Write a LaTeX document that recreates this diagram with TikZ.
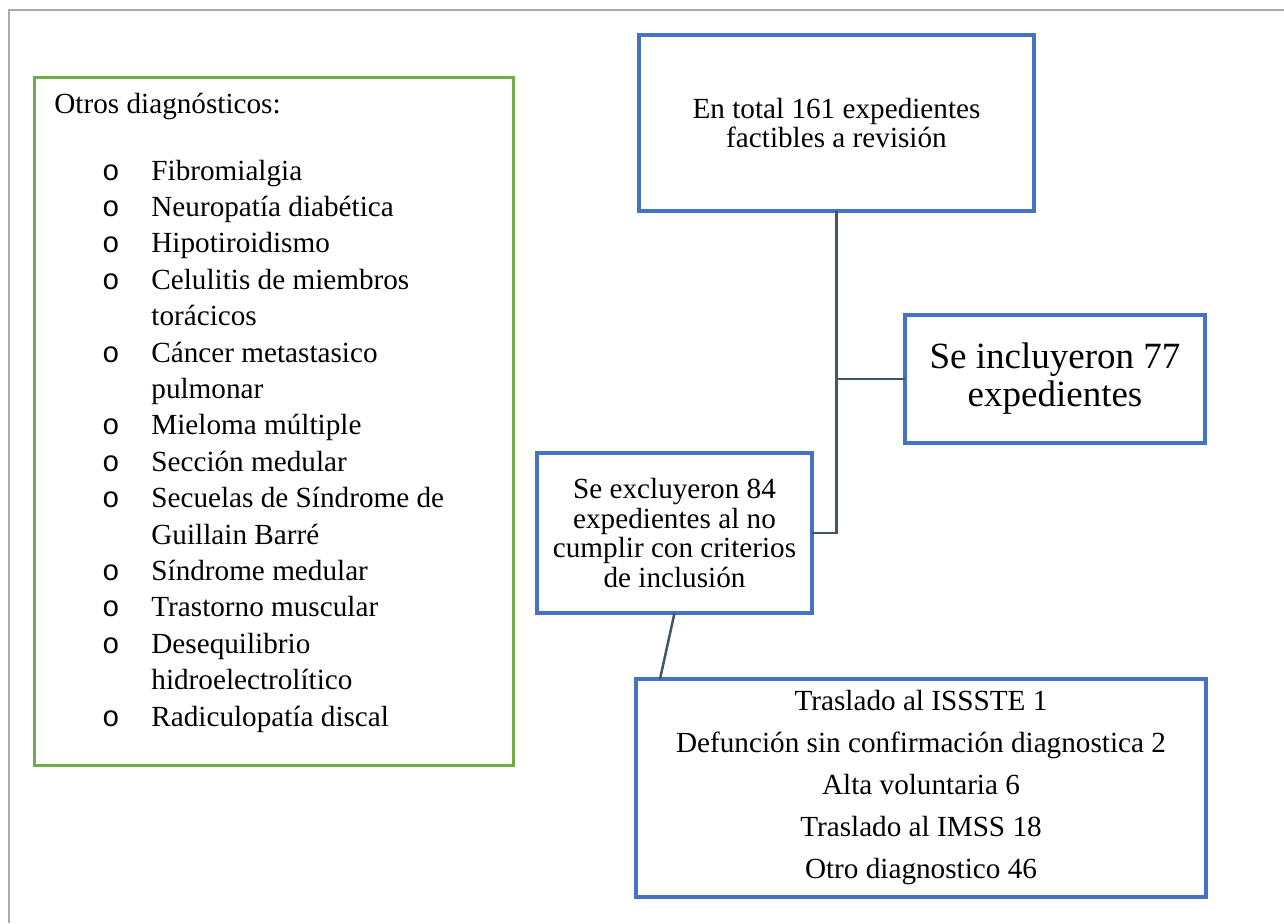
\documentclass[tikz,border=0pt]{standalone}
\usepackage{fontspec}
\setmainfont{Liberation Serif}
\newfontfamily\bulletfont{Liberation Mono}
\definecolor{boxblue}{HTML}{4472C4}
\definecolor{boxgreen}{HTML}{70AD47}
\definecolor{linkc}{HTML}{44546A}
\definecolor{framegray}{HTML}{ABABAB}
\begin{document}
\begin{tikzpicture}[x=0.5pt,y=-0.5pt,
  bluebox/.style={draw=boxblue,line width=2pt,outer sep=0pt,inner sep=0pt,align=center},
  greenbox/.style={draw=boxgreen,line width=1.5pt,outer sep=0pt,inner sep=0pt},
  link/.style={draw=linkc,line width=1.25pt},
  txt/.style={font=\fontsize{14.6}{14.7}\selectfont,inner sep=0pt,anchor=base west},
  bul/.style={font=\bulletfont\fontsize{14.6}{14.7}\selectfont,inner sep=0pt,anchor=base}]
\useasboundingbox (0,0) rectangle (1284,923);
\draw[framegray,line width=1pt] (9,923) -- (9,10) -- (1284,10);

% green box
\node[greenbox,minimum width=239.5pt,minimum height=344pt] (otros) at (274,421.5) {};
\node[txt] (titulo) at (54,113) {Otros diagnósticos:};
\foreach \k/\b/\t in {0/1/Fibromialgia,1/1/Neuropatía diabética,2/1/Hipotiroidismo,
  3/1/Celulitis de miembros,4/0/torácicos,5/1/Cáncer metastasico,6/0/pulmonar,
  7/1/Mieloma múltiple,8/1/Sección medular,9/1/Secuelas de Síndrome de,
  10/0/Guillain Barré,11/1/Síndrome medular,12/1/Trastorno muscular,
  13/1/Desequilibrio,14/0/hidroelectrolítico,15/1/Radiculopatía discal}{
  \node[txt] (item\k) at (151,180+36.4*\k) {\t};
  \ifnum\b=1 \node[bul] (bul\k) at (111,180+36.4*\k) {o};\fi
}

% blue boxes
\node[bluebox,minimum width=197.5pt,minimum height=88pt,font=\fontsize{14.6}{14.7}\selectfont]
  (top) at (836.5,123) {En total 161 expedientes\\factibles a revisión};
\node[bluebox,minimum width=150pt,minimum height=64pt,font=\fontsize{18.5}{19}\selectfont]
  (incl) at (1055,379) {Se incluyeron 77\\expedientes};
\node[bluebox,minimum width=137.5pt,minimum height=80pt,font=\fontsize{14.6}{14.75}\selectfont]
  (excl) at (674.5,533) {Se excluyeron 84\\expedientes al no\\cumplir con criterios\\de inclusión};
\node[bluebox,minimum width=285pt,minimum height=109pt,font=\fontsize{14.6}{21}\selectfont]
  (motivos) at (921,788) {Traslado al ISSSTE 1\\Defunción sin confirmación diagnostica 2\\Alta voluntaria 6\\Traslado al IMSS 18\\Otro diagnostico 46};

% connectors
\coordinate (motin) at ([xshift=12pt]motivos.north west);
\draw[link] (top.south) -- (top.south |- excl.east) -- (excl.east);
\draw[link] (top.south |- incl.west) -- (incl.west);
\draw[link] (excl.south) -- (motin);
\end{tikzpicture}
\end{document}
